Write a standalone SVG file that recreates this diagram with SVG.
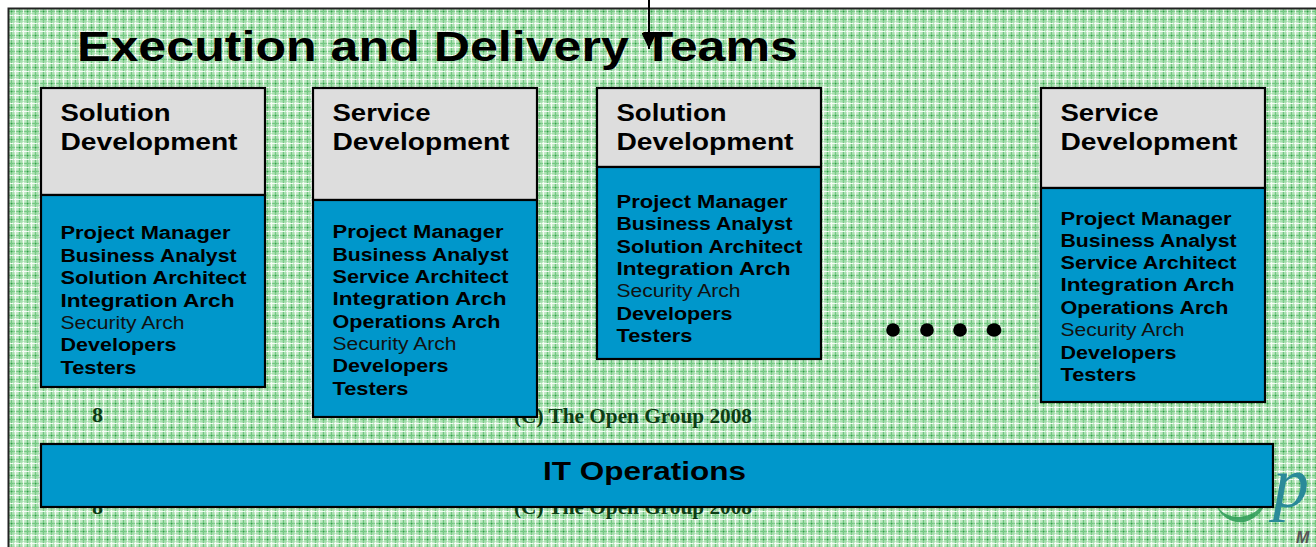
<svg xmlns="http://www.w3.org/2000/svg" width="1316" height="547" viewBox="0 0 1316 547">
<style>
.t{font-family:"Liberation Sans",Arial,sans-serif;font-weight:700;fill:#000}
.h{font-size:24px}
.b{font-size:18px}
.r{font-weight:400;fill:#111}
.c{font-family:"Liberation Serif","Times New Roman",serif;font-weight:700;font-size:20px;fill:#0c3d14}
.g{fill:#dddddd;stroke:#000;stroke-width:2.2}
.u{fill:#0097cb;stroke:#000;stroke-width:2.2}
</style>
<defs>
<pattern id="bg" width="16" height="16" patternUnits="userSpaceOnUse" x="10" y="10">
<rect width="16" height="16" fill="#c0e9c4"/>
<path d="M0 1.5H16M0 9.5H16M1.5 0V16M9.5 0V16" stroke="#5fbe70" stroke-width="1.5" opacity=".8"/>
<path d="M0 5.5H16M0 13.5H16M5.5 0V16M13.5 0V16" stroke="#ffffff" stroke-width="1.2" opacity=".85"/>
<path d="M0 3.5H16M0 11.5H16M3.5 0V16M11.5 0V16" stroke="#8fd49b" stroke-width=".8" opacity=".6"/>
<rect x="1" y="1" width="1.2" height="1.2" fill="#22903a" opacity=".8"/>
<rect x="9" y="9" width="1.2" height="1.2" fill="#22903a" opacity=".8"/>
</pattern>
<marker id="arrow" markerUnits="userSpaceOnUse" markerWidth="17" markerHeight="15" refX="16" refY="7.5" orient="auto" viewBox="0 0 17 15"><path d="M0 0L16 7.5L0 15Z" fill="#000"/></marker>
</defs>
<rect width="1316" height="547" fill="#fff"/>
<rect x="9" y="9" width="1307" height="538" fill="url(#bg)"/>
<path d="M8.5 547V8.5H1316" fill="none" stroke="#222" stroke-width="2"/>

<g id="logo">
<path d="M1216 505C1222 520 1238 526 1250 520C1258 516 1264 510 1266 500C1260 510 1250 517 1238 517C1228 517 1221 512 1216 505Z" fill="#2a9a55" opacity=".85"/>
<text x="1273" y="507" font-family="Liberation Serif,serif" font-style="italic" font-size="72" fill="#2a8a99">p</text>
<text x="1296" y="543" font-family="Liberation Sans,sans-serif" font-style="italic" font-weight="700" font-size="16" fill="#555">M</text>
</g>

<g id="footer">
<text class="c" x="92" y="422" textLength="11" lengthAdjust="spacingAndGlyphs">8</text>
<text class="c" x="514" y="423" textLength="238" lengthAdjust="spacingAndGlyphs">(C) The Open Group 2008</text>
<text class="c" x="92" y="514" textLength="11" lengthAdjust="spacingAndGlyphs">8</text>
<text class="c" x="514" y="514" textLength="238" lengthAdjust="spacingAndGlyphs">(C) The Open Group 2008</text>
</g>

<text id="title" class="t" x="77" y="61" font-size="43" textLength="721" lengthAdjust="spacingAndGlyphs">Execution and Delivery Teams</text>

<g id="connectors"><line x1="649" y1="0" x2="649" y2="49" stroke="#000" stroke-width="2" marker-end="url(#arrow)"/></g>

<g id="node-solution-1">
<rect class="g" x="41" y="88" width="224" height="107"/>
<rect class="u" x="41" y="195" width="224" height="192"/>
<text class="t h" x="60.5" y="121" textLength="110" lengthAdjust="spacingAndGlyphs">Solution</text>
<text class="t h" x="60.5" y="150" textLength="177" lengthAdjust="spacingAndGlyphs">Development</text>
<text class="t b" x="60.5" y="239" textLength="170" lengthAdjust="spacingAndGlyphs">Project Manager</text>
<text class="t b" x="60.5" y="262" textLength="176" lengthAdjust="spacingAndGlyphs">Business Analyst</text>
<text class="t b" x="60.5" y="284" textLength="186" lengthAdjust="spacingAndGlyphs">Solution Architect</text>
<text class="t b" x="60.5" y="307" textLength="174" lengthAdjust="spacingAndGlyphs">Integration Arch</text>
<text class="t b r" x="60.5" y="329" textLength="124" lengthAdjust="spacingAndGlyphs">Security Arch</text>
<text class="t b" x="60.5" y="351" textLength="116" lengthAdjust="spacingAndGlyphs">Developers</text>
<text class="t b" x="60.5" y="374" textLength="76" lengthAdjust="spacingAndGlyphs">Testers</text>
</g>

<g id="node-service-1">
<rect class="g" x="313" y="88" width="224" height="112"/>
<rect class="u" x="313" y="200" width="224" height="217"/>
<text class="t h" x="332.5" y="121" textLength="98" lengthAdjust="spacingAndGlyphs">Service</text>
<text class="t h" x="332.5" y="150" textLength="177" lengthAdjust="spacingAndGlyphs">Development</text>
<text class="t b" x="332.5" y="238" textLength="171" lengthAdjust="spacingAndGlyphs">Project Manager</text>
<text class="t b" x="332.5" y="261" textLength="176" lengthAdjust="spacingAndGlyphs">Business Analyst</text>
<text class="t b" x="332.5" y="283" textLength="176" lengthAdjust="spacingAndGlyphs">Service Architect</text>
<text class="t b" x="332.5" y="305" textLength="174" lengthAdjust="spacingAndGlyphs">Integration Arch</text>
<text class="t b" x="332.5" y="328" textLength="168" lengthAdjust="spacingAndGlyphs">Operations Arch</text>
<text class="t b r" x="332.5" y="350" textLength="124" lengthAdjust="spacingAndGlyphs">Security Arch</text>
<text class="t b" x="332.5" y="372" textLength="116" lengthAdjust="spacingAndGlyphs">Developers</text>
<text class="t b" x="332.5" y="395" textLength="76" lengthAdjust="spacingAndGlyphs">Testers</text>
</g>

<g id="node-solution-2">
<rect class="g" x="597" y="88" width="224" height="79"/>
<rect class="u" x="597" y="167" width="224" height="192"/>
<text class="t h" x="616.5" y="121" textLength="110" lengthAdjust="spacingAndGlyphs">Solution</text>
<text class="t h" x="616.5" y="150" textLength="177" lengthAdjust="spacingAndGlyphs">Development</text>
<text class="t b" x="616.5" y="208" textLength="171" lengthAdjust="spacingAndGlyphs">Project Manager</text>
<text class="t b" x="616.5" y="230" textLength="176" lengthAdjust="spacingAndGlyphs">Business Analyst</text>
<text class="t b" x="616.5" y="253" textLength="186" lengthAdjust="spacingAndGlyphs">Solution Architect</text>
<text class="t b" x="616.5" y="275" textLength="174" lengthAdjust="spacingAndGlyphs">Integration Arch</text>
<text class="t b r" x="616.5" y="297" textLength="124" lengthAdjust="spacingAndGlyphs">Security Arch</text>
<text class="t b" x="616.5" y="320" textLength="116" lengthAdjust="spacingAndGlyphs">Developers</text>
<text class="t b" x="616.5" y="342" textLength="76" lengthAdjust="spacingAndGlyphs">Testers</text>
</g>

<g id="node-ellipsis">
<circle cx="893" cy="330" r="6.8"/><circle cx="927" cy="330" r="6.8"/><circle cx="960" cy="330" r="6.8"/><ellipse cx="994" cy="330" rx="7.4" ry="6.8"/>
</g>

<g id="node-service-2">
<rect class="g" x="1041" y="88" width="224" height="100"/>
<rect class="u" x="1041" y="188" width="224" height="214"/>
<text class="t h" x="1060.5" y="121" textLength="98" lengthAdjust="spacingAndGlyphs">Service</text>
<text class="t h" x="1060.5" y="150" textLength="177" lengthAdjust="spacingAndGlyphs">Development</text>
<text class="t b" x="1060.5" y="225" textLength="171" lengthAdjust="spacingAndGlyphs">Project Manager</text>
<text class="t b" x="1060.5" y="247" textLength="176" lengthAdjust="spacingAndGlyphs">Business Analyst</text>
<text class="t b" x="1060.5" y="269" textLength="176" lengthAdjust="spacingAndGlyphs">Service Architect</text>
<text class="t b" x="1060.5" y="291" textLength="174" lengthAdjust="spacingAndGlyphs">Integration Arch</text>
<text class="t b" x="1060.5" y="314" textLength="168" lengthAdjust="spacingAndGlyphs">Operations Arch</text>
<text class="t b r" x="1060.5" y="336" textLength="124" lengthAdjust="spacingAndGlyphs">Security Arch</text>
<text class="t b" x="1060.5" y="359" textLength="116" lengthAdjust="spacingAndGlyphs">Developers</text>
<text class="t b" x="1060.5" y="381" textLength="76" lengthAdjust="spacingAndGlyphs">Testers</text>
</g>

<g id="node-it-operations">
<rect class="u" x="41" y="444" width="1232" height="63"/>
<text class="t" x="543" y="480" font-size="26" textLength="203" lengthAdjust="spacingAndGlyphs">IT Operations</text>
</g>
</svg>
